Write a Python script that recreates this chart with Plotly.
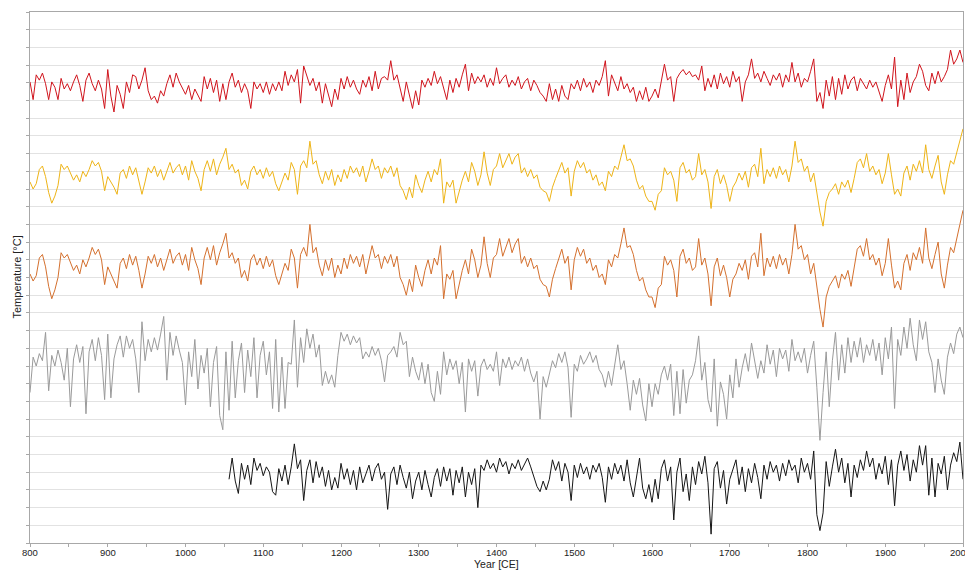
import plotly.graph_objects as go

# ---- data (anomalies, 4-year steps) ----
years = list(range(800, 2001, 4))
years_black = list(range(1056, 2001, 4))
tick_years = [800, 900, 1000, 1100, 1200, 1300, 1400, 1500, 1600, 1700, 1800, 1900, 2000]

red = [
    0.2, -0.8, 0.6, 0.3, 0.7,   0.1, -0.8, 0.2, -0.1, -0.8,
    0.4, -0.2, 0.1, -0.3, 0.2,  0.6, 0.0, -0.9, 0.3, 0.7,
    0.1, -0.3, 0.3, -0.2, -1.3, 0.9, -0.6, -1.5, 0.0, -0.5,
    -1.3, 0.2, -0.4, 0.6, 0.5, -0.2, 0.3, 1.0, -0.3, -0.8,
    -0.6, -1.0, -0.3, -0.6, 0.1, 0.6, -0.1, 0.7, 0.2, -0.2,
    -0.5, 0.0, -0.8, -0.2, -0.6, -0.9, 0.5, -0.2, 0.4, -0.4,
    0.3, -0.9, 0.1, -0.8, 0.2,  0.7, -0.1, 0.3, -0.4, 0.1,
    -0.3, -1.3, 0.2, -0.2, 0.1, -0.4, 0.2, -0.5, 0.1, -0.3,
    0.2, -0.3, 0.8, 0.0, 0.6,   0.2, 0.9, -1.0, 1.1, 0.5,
    0.0, 0.4, -0.3, 0.2, -1.0,  0.1, -0.5, -1.2, -0.2, -0.8,
    0.4, -0.2, 0.5, -0.1, 0.3,  -0.2, -0.5, 0.3, -0.1, 0.5,
    -0.3, 0.8, -0.2, 0.4, 0.5,  0.3, 1.4, 0.3, 0.6, -0.1,
    -0.9, 0.2, -0.6, -1.3, -0.3, -1.1, 0.3, -0.1, 0.4, 0.0,
    0.8, 0.1, 0.5, -0.2, -0.8,  0.3, -0.4, 0.4, -0.1, 0.6,
    1.2, -0.3, 0.7, 0.1, 0.5,   0.2, 0.6, -0.1, 0.4, 0.0,
    1.0, 0.1, 0.4, 0.6, -0.1,   0.3, 0.0, 0.5, -0.2, 0.2,
    0.4, -0.3, 0.3, 0.0, -0.4,  -0.6, -0.9, 0.1, -0.8, -0.2,
    -0.9, 0.0, -0.6, -0.8, 0.1, -0.2, 0.3, -0.3, 0.4, -0.1,
    0.2, -0.4, 0.3, 0.0, 0.5,   1.4, -0.6, 0.6, 0.2, -0.3,
    0.5, -0.2, 0.1, -0.4, -0.1, -0.9, -0.3, -0.8, -0.1, -0.9,
    -0.6, -0.2, -0.7, 0.2, 1.2, 0.3, 0.5, -0.9, 0.4, 0.7,
    0.9, 0.6, 0.8, 0.5, 0.6,    0.3, 1.1, -0.3, 0.4, -0.1,
    0.6, -0.2, 0.7, 0.1, 0.5,   -0.1, 0.8, 0.2, 0.5, -0.9,
    0.2, 0.6, 1.5, 0.4, 0.7,    0.2, 0.8, 0.4, 0.0, 0.6,
    0.3, 0.7, -0.1, 0.6, 0.2,   1.3, 0.2, 0.7, -0.1, 0.4,
    0.2, 0.8, 1.5, -0.9, -0.4,  -1.3, 0.3, -0.6, 0.5, -0.8,
    0.4, -0.5, 0.6, -0.2, 0.3,  0.5, -0.3, 0.4, 0.1, -0.2,
    0.3, -0.1, 0.2, -0.3, -0.9, 0.0, 0.6, -0.2, 1.6, -1.2,
    0.3, -0.8, 0.7, -0.4, 0.2,  0.5, 1.2, 0.8, 0.0, -0.3,
    0.7, 0.1, 0.8, 0.2, 0.5,    0.9, 2.0, 1.2, 1.5, 2.0,
    1.3,
]

yellow = [
    -0.3, -0.7, -0.4, 0.4, 0.6,  0.0, -0.9, -1.5, -1.1, -0.5,
    0.7, 0.4, 0.6, 0.2, -0.2,    0.1, -0.3, 0.3, 0.0, 0.4,
    0.9, 0.6, 0.8, 0.3, -0.8,    0.0, -0.3, -0.6, -1.0, 0.2,
    0.4, -0.1, 0.6, 0.1, 0.5,    -0.2, -1.0, -0.3, 0.5, 0.2,
    0.6, 0.0, 0.4, -0.2, 0.3,    0.8, 0.2, 0.5, 0.7, 0.1,
    0.6, -0.2, 0.9, 0.3, -0.1,   -0.8, 0.4, 0.9, 0.3, 1.0,
    0.1, 0.7, 1.1, 1.6, 0.4,     0.7, 0.2, 0.4, -0.5, -0.2,
    -0.7, 0.3, 0.6, 0.1, 0.4,    -0.1, 0.5, 0.0, 0.3, -0.4,
    -0.8, -0.3, 0.2, -0.2, 0.8,  0.4, -1.0, 0.6, 0.9, 0.5,
    2.0, 0.7, 0.9, 0.1, -0.4,    0.3, -0.2, 0.4, -0.5, 0.1,
    -0.3, 0.4, -0.1, 0.6, 0.2,   0.5, 0.0, 0.6, -0.3, 0.3,
    1.0, 0.4, 0.6, -0.1, 0.5,    0.2, 0.6, 0.0, 0.5, -0.5,
    -0.8, -1.3, -0.6, -1.2, 0.1, -0.5, -0.9, -0.2, 0.3, -0.3,
    0.4, 0.1, 1.0, -1.5, -0.3,   -0.6, -0.2, -1.5, -0.8, -0.2,
    0.3, -0.3, 0.8, 0.3, -0.5,   0.1, 1.4, 0.2, -0.5, 0.4,
    0.6, 1.3, 0.5, 0.9, 1.3,     0.7, 1.1, 1.3, 0.2, 0.5,
    0.0, 0.4, -0.1, 0.1, -0.6,   -0.8, -0.9, -1.4, -0.6, -0.1,
    0.4, 0.8, 0.2, 0.5, -1.1,    0.3, 0.9, 0.5, 0.8, 0.2,
    0.4, -0.2, 0.1, -0.5, -0.3,  -0.8, 0.3, 0.0, 0.6, 0.4,
    1.1, 1.8, 0.9, 1.0, 0.6,     -0.2, -0.7, -0.5, -1.1, -1.4,
    -1.4, -1.9, -1.0, -0.8, 0.5, 0.1, 0.3, -0.2, -1.4, 0.5,
    0.8, 0.2, 0.4, -0.2, 0.0,    1.3, 0.1, 0.4, -0.3, -1.8,
    0.0, 0.4, -0.4, 0.1, -0.5,   -1.4, -0.6, -0.3, 0.2, -0.2,
    0.3, -0.6, 0.5, 0.7, 0.0,    1.6, -0.4, 0.4, 0.0, 0.5,
    -0.1, 0.6, 0.1, 0.4, -0.3,   0.6, 2.0, 0.8, 1.0, 0.3,
    0.6, -0.3, 0.2, -1.0, -2.0,  -2.8, -1.4, -0.9, -0.7, -0.4,
    -1.0, -0.3, -0.6, -0.2, -0.9, -0.1, 0.8, 1.0, 0.5, 1.3,
    0.3, 0.6, 0.1, 0.4, -0.4,    0.2, 1.3, 0.1, -1.0, -0.7,
    -1.1, 0.2, 0.6, -0.2, 0.7,   0.3, 0.9, 0.2, 1.8, 0.4,
    -0.1, 0.6, 1.2, -0.3, -1.0,  0.1, 0.9, 0.7, 1.4, 2.0,
    2.7,
]

orange = [
    -0.4, -0.8, -0.5, 0.5, 0.7,  0.0, -1.1, -1.8, -1.3, -0.6,
    0.8, 0.5, 0.7, 0.2, -0.2,    0.1, -0.4, 0.4, 0.0, 0.5,
    1.1, 0.7, 1.0, 0.4, -1.0,    0.0, -0.4, -0.7, -1.2, 0.2,
    0.5, -0.1, 0.7, 0.1, 0.6,    -0.2, -1.2, -0.4, 0.6, 0.2,
    0.7, 0.0, 0.5, -0.2, 0.4,    1.0, 0.2, 0.6, 0.8, 0.1,
    0.7, -0.2, 1.1, 0.4, -0.1,   -1.0, 0.5, 1.1, 0.4, 1.2,
    0.1, 0.8, 1.3, 1.9, 0.5,     0.8, 0.2, 0.5, -0.6, -0.2,
    -0.8, 0.4, 0.7, 0.1, 0.5,    -0.1, 0.6, 0.0, 0.4, -0.5,
    -1.0, -0.4, 0.2, -0.2, 1.0,  0.5, -1.2, 0.7, 1.1, 0.6,
    2.4, 0.8, 1.1, 0.1, -0.5,    0.4, -0.2, 0.5, -0.6, 0.1,
    -0.4, 0.5, -0.1, 0.7, 0.2,   0.6, 0.0, 0.7, -0.4, 0.4,
    1.2, 0.5, 0.7, -0.1, 0.6,    0.2, 0.7, 0.0, 0.6, -0.6,
    -1.0, -1.6, -0.7, -1.4, 0.1, -0.6, -1.1, -0.2, 0.4, -0.4,
    0.5, 0.1, 1.2, -1.8, -0.4,   -0.7, -0.2, -1.8, -1.0, -0.2,
    0.4, -0.4, 1.0, 0.4, -0.6,   0.1, 1.7, 0.2, -0.6, 0.5,
    0.7, 1.6, 0.6, 1.1, 1.6,     0.8, 1.3, 1.6, 0.2, 0.6,
    0.0, 0.5, -0.1, 0.1, -0.7,   -1.0, -1.1, -1.7, -0.7, -0.1,
    0.5, 1.0, 0.2, 0.6, -1.3,    0.4, 1.1, 0.6, 1.0, 0.2,
    0.5, -0.2, 0.1, -0.6, -0.4,  -1.0, 0.4, 0.0, 0.7, 0.5,
    1.3, 2.2, 1.1, 1.2, 0.7,     -0.2, -0.8, -0.6, -1.3, -1.7,
    -1.7, -2.3, -1.2, -1.0, 0.6, 0.1, 0.4, -0.2, -1.7, 0.6,
    1.0, 0.2, 0.5, -0.2, 0.0,    1.6, 0.1, 0.5, -0.4, -2.2,
    0.0, 0.5, -0.5, 0.1, -0.6,   -1.7, -0.7, -0.4, 0.2, -0.2,
    0.4, -0.7, 0.6, 0.8, 0.0,    1.9, -0.5, 0.5, 0.0, 0.6,
    -0.1, 0.7, 0.1, 0.5, -0.4,   0.7, 2.4, 1.0, 1.2, 0.4,
    0.7, -0.4, 0.2, -1.2, -2.4,  -3.4, -1.7, -1.1, -0.8, -0.5,
    -1.2, -0.4, -0.7, -0.2, -1.1, -0.1, 1.0, 1.2, 0.6, 1.6,
    0.4, 0.7, 0.1, 0.5, -0.5,    0.2, 1.6, 0.1, -1.2, -0.8,
    -1.3, 0.2, 0.7, -0.2, 0.8,   0.4, 1.1, 0.2, 2.2, 0.5,
    -0.1, 0.7, 1.4, -0.4, -1.2,  0.1, 1.1, 0.8, 1.7, 2.4,
    3.2,
]

gray = [
    -1.5, 0.5, 0.0, 0.7, 0.3,    1.9, -1.4, 0.6, 0.0, 0.9,
    0.2, -0.8, 1.0, -2.3, 0.4,   1.2, 0.2, 1.1, -2.7, 0.8,
    1.5, 0.3, 1.6, 0.6, -1.9,    1.8, -1.8, 0.4, 1.2, 1.7,
    0.5, 1.7, 1.0, 1.5, 0.4,     -1.5, 2.5, 0.3, 1.5, 0.8,
    1.6, 0.9, 1.8, 2.8, -0.8,    1.9, 0.6, 1.7, 0.9, 0.2,
    -2.2, 0.8, -0.6, 1.5, -1.3,  0.6, -0.4, 1.0, -2.3, 0.2,
    1.1, -2.8, -3.6, 0.8, -2.5,  1.4, -1.8, 0.3, 1.3, -1.5,
    0.9, -0.6, 1.6, -1.8, 0.6,   1.4, -0.5, 0.8, -2.4, 1.5,
    -2.6, 0.5, -2.4, 0.2, 0.1,   2.6, -1.2, 1.6, 0.2, 2.1,
    1.0, 1.8, 0.5, 1.2, -1.1,    -0.3, -1.0, -0.5, -1.2, 0.6,
    1.9, 1.4, 1.8, 1.2, 1.7,     1.3, 1.6, 0.4, 0.8, 0.5,
    1.1, 0.6, 1.0, 0.3, -0.9,    0.6, 0.8, 1.1, 0.5, 1.9,
    1.2, 1.4, -0.6, 0.5, -0.3,   -0.8, 0.2, -1.0, 0.1, -1.5,
    -2.0, -0.3, -1.6, 0.8, -0.5, 0.4, -0.2, 0.3, -1.0, 0.2,
    -2.6, 0.4, -0.3, 0.3, -1.7,  0.0, 0.4, -0.2, 0.1, -0.3,
    0.8, -1.1, 0.4, -0.1, 0.5,   -0.2, 0.3, 0.0, 0.5, -0.3,
    0.4, -0.4, -0.9, -0.3, -3.0, -0.6, -1.2, -0.4, 0.3, -0.1,
    0.7, 0.2, 0.8, -0.1, -2.9,   0.1, -0.3, 0.6, 0.1, 0.4,
    0.8, 0.2, 0.6, -0.2, -0.5,   -1.2, -0.3, -1.1, 0.0, 1.2,
    -0.2, 0.3, -1.0, -2.5, -0.8, -1.6, -0.7, -2.2, -3.1, -1.0,
    -2.3, -1.0, -1.6, -0.5, 0.0, -0.8, 0.1, -2.8, -0.3, -2.7,
    -0.2, -2.1, -0.8, -0.5, 0.3, 1.7, -0.8, 0.2, -1.9, -2.6,
    0.4, -3.4, -0.9, -1.6, -3.0, -0.5, -1.8, 0.4, -1.2, -0.1,
    0.7, -0.3, 1.3, 0.2, -0.7,   0.3, -0.4, 1.2, 0.1, 0.9,
    -0.6, 1.0, 0.4, 0.9, -0.3,   1.5, 0.3, 0.8, 0.2, 1.0,
    -0.4, 0.6, 1.4, -1.2, -4.2,  -1.5, 0.8, -2.3, 0.3, 1.9,
    -0.8, 1.2, -0.4, 1.6, 0.2,   1.4, 0.5, 1.6, 0.2, 1.2,
    0.6, 1.5, 0.3, 1.3, -0.5,    1.6, 0.4, 2.2, -2.4, 1.5,
    0.6, 2.2, 1.0, 2.7, 1.2,     0.3, 2.6, 1.5, 2.5, 0.8,
    0.2, -1.5, 0.4, -0.8, -1.6,  0.5, 1.3, 0.7, 1.8, 2.2,
    1.6,
]

black = [
    -0.3, 0.9, -0.4, -1.1, 0.6,  -0.3, 0.5, -0.6, 0.9, 0.2,
    0.6, -0.1, 0.4, 0.1, -1.0,   -1.2, 0.3, -0.4, 0.5, -0.6,
    0.4, 1.7, 0.3, 0.8, -1.5,    0.2, 0.8, -0.5, 0.7, -0.2,
    0.4, -0.7, 0.2, -0.9, -0.2,  -0.8,
    0.6, -0.3, 0.3, -0.6, 0.2,   -0.9, 0.4, -0.5, 0.0, 0.5,
    -0.4, 0.3, 0.6, -0.3, 0.1,   -2.0, 0.0, 0.4, -0.6, 0.5,
    -0.2, -0.8, 0.1, -1.4, -0.4, 0.1, -0.9, 0.2, -0.6, -1.3,
    -0.2, 0.3, -0.7, 0.4, -0.4,  0.3, -1.2, 0.2, -0.5, 0.4,
    -1.3, 0.1, -0.6, 0.3, -1.9,  0.5, 0.2, 0.8, 0.3, 0.6,
    0.1, 0.9, 0.4, 0.7, 0.0,     0.6, 0.3, 0.8, 0.2, 0.6,
    0.9, 0.4, -0.2, -0.7, -1.0,  -0.4, -0.9, -0.3, 0.8, 0.2,
    0.7, -0.4, 0.6, 0.1, -1.5,   0.5, -0.2, 0.6, 0.0, 0.4,
    -0.3, 0.5, 0.1, 0.6, -0.2,   -1.6, 0.4, -0.3, 0.6, 0.0,
    0.5, -0.4, 0.8, -0.5, -1.3,  -0.2, 0.9, -0.8, -1.4, -0.6,
    -1.6, -0.3, -1.4, 0.3, 0.8,  -0.4, 0.4, -2.6, 0.1, 0.9,
    -1.0, 0.0, -1.5, 0.4, -0.6,  0.7, 0.0, 1.0, -0.5, -3.4,
    0.3, 0.7, -0.8, 0.2, -1.7,   -0.3, 0.2, 0.8, -0.6, 0.4,
    -1.0, 0.3, -0.5, 0.6, -0.2,  -1.4, 0.5, -0.3, 0.7, 0.1,
    0.5, -0.4, 0.6, -0.1, 0.8,   0.2, 0.5, -0.5, 0.9, 0.1,
    0.6, -0.3, 1.3, -2.3, -3.2,  -2.2, 0.7, -0.7, 0.4, 1.4,
    0.1, 0.9, -0.5, 0.6, -1.3,   0.5, -0.2, 0.8, 0.2, 1.3,
    0.4, 0.9, -0.3, 0.6, 0.0,    1.0, -0.6, 0.8, -1.8, 0.5,
    1.3, 0.2, 1.1, -0.4, 0.8,    0.1, 1.6, 0.5, 1.6, -1.2,
    0.9, -1.3, 0.6, 0.0, 1.0,    -0.9, 0.5, 1.2, 0.7, 1.8,
    -0.3,
]

series = [
    ("red", red, years, 25.85, "#d0141c"),
    ("yellow", yellow, years, 20.7, "#eeb417"),
    ("orange", orange, years, 15.6, "#d4702e"),
    ("gray", gray, years, 10.0, "#9a9a9a"),
    ("black", black, years_black, 3.9, "#151515"),
]

fig = go.Figure()
for name, vals, xs, off, col in series:
    n = min(len(vals), len(xs))
    fig.add_trace(go.Scatter(
        x=xs[:n], y=[v + off for v in vals[:n]], mode="lines", name=name,
        line=dict(color=col, width=1), hoverinfo="skip", showlegend=False,
    ))

# x tick labels as annotations so the last one ("2000") stays inside the page
tick_annots = []
for i, yr in enumerate(tick_years):
    last = i == len(tick_years) - 1
    tick_annots.append(dict(
        text=str(yr), x=yr, y=0, xref="x", yref="paper",
        xanchor="right" if last else "center", xshift=10 if last else 0,
        yanchor="middle", yshift=-9, showarrow=False,
        font=dict(size=9.5, color="#222"),
    ))

# The page body has an 8px default margin; size the figure so the plot
# area lands where the reference has it.
font_family = "Liberation Sans, Arial, sans-serif"
fig.update_layout(
    width=965, height=563,
    margin=dict(l=22, r=10, t=4, b=28, autoexpand=False),
    paper_bgcolor="white", plot_bgcolor="white",
    font=dict(family=font_family, size=11, color="#222"),
    xaxis=dict(
        range=[800, 2000], dtick=100, tick0=800,
        showgrid=False, zeroline=False, automargin=False,
        showline=True, linecolor="#a8a8a8", linewidth=1, mirror=True,
        ticks="outside", ticklen=3, tickcolor="#a8a8a8",
        minor=dict(dtick=50, ticks="outside", ticklen=3, tickcolor="#a8a8a8", showgrid=False),
        showticklabels=False,
    ),
    yaxis=dict(
        range=[0, 30], dtick=1, tick0=0, automargin=False,
        showticklabels=False, zeroline=False,
        showgrid=True, gridcolor="#e2e2e2", gridwidth=1,
        showline=True, linecolor="#a8a8a8", linewidth=1, mirror=True,
        ticks="outside", ticklen=3, tickcolor="#a8a8a8",
    ),
    annotations=tick_annots + [
        dict(text="Temperature [°C]", x=0, y=0.5, xref="paper", yref="paper",
             xshift=-14, xanchor="center", yanchor="middle", textangle=-90,
             showarrow=False, font=dict(size=11, color="#222")),
        dict(text="Year [CE]", x=0.5, y=0, xref="paper", yref="paper",
             yshift=-21, yanchor="middle", showarrow=False,
             font=dict(size=10.5, color="#222")),
    ],
)

fig.write_html("out.html")
